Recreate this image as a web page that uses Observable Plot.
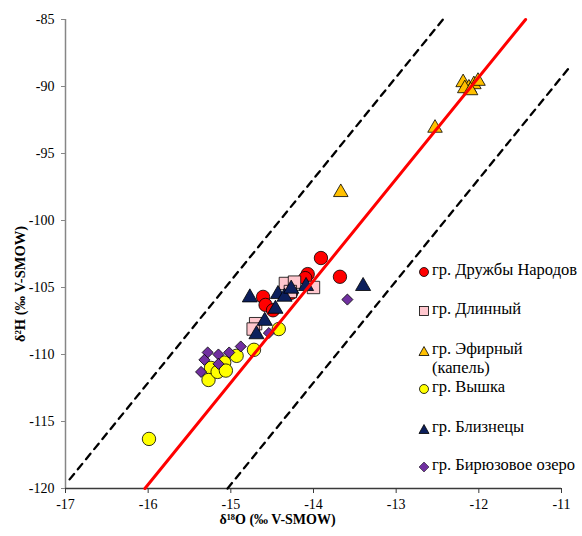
<!DOCTYPE html>
<html><head><meta charset="utf-8">
<script src="https://cdn.jsdelivr.net/npm/d3@7"></script>
<script src="https://cdn.jsdelivr.net/npm/@observablehq/plot@0.6"></script>
<style>
body{margin:0;background:#fff;}
#wrap{position:relative;width:582px;height:536px;overflow:hidden;font-family:"Liberation Serif","Times New Roman",serif;}
.li{position:absolute;font-size:16.5px;line-height:18px;white-space:nowrap;color:#000;}
.mk{position:absolute;}
</style></head><body><div id="wrap"></div>
<script>
// ---- data ----
const seriesNames = ["гр. Дружбы Народов", "гр. Длинный", "гр. Эфирный\n(капель)", "гр. Вышка", "гр. Близнецы", "гр. Бирюзовое озеро"];

const druzhbyX = [-13.91, -14.07, -14.10, -13.68, -14.61, -14.58, -14.49, -14.27];
const druzhbyY = [-102.8, -104.0, -104.3, -104.2, -105.7, -106.3, -106.7, -105.4];

const dlinnyX = [-14.34, -14.23, -14.00, -14.70, -14.73, -14.28];
const dlinnyY = [-104.7, -104.6, -105.0, -107.7, -108.1, -105.3];

const efirX = [-12.19, -12.12, -12.06, -12.01, -12.17, -12.10, -12.53, -13.67];
const efirY = [-89.7, -90.1, -89.85, -89.6, -90.15, -90.3, -93.1, -97.9];

const vyshkaX = [-15.99, -15.24, -15.27, -15.16, -15.08, -15.06, -14.93, -14.72, -14.42];
const vyshkaY = [-116.3, -111.0, -111.9, -111.3, -110.6, -111.2, -110.1, -109.65, -108.1];

const bliznetsyX = [-14.77, -14.43, -14.35, -14.27, -14.09, -14.46, -14.59, -14.69, -13.40];
const bliznetsyY = [-105.75, -105.5, -105.7, -105.1, -104.9, -106.6, -107.5, -108.5, -104.9];

const biryuzX = [-13.59, -14.54, -14.88, -15.02, -15.15, -15.28, -15.32, -15.15, -15.36];
const biryuzY = [-105.9, -108.4, -109.4, -109.85, -110.0, -109.85, -110.4, -110.7, -111.3];

// meteoric water line and ±1‰ δ18O envelope
const lineSlope = 7.6;
const lineIntercepts = [1.9, 9.5, -5.7];   // red, left dashed, right dashed
const lineXLimits = [[-17, -11], [-16.95, -11], [-17, -10.91]];

const xTicks = [-17, -16, -15, -14, -13, -12, -11];
const yTicks = [-120, -115, -110, -105, -100, -95, -90, -85];
const xDomain = [-17, -11];
const yDomain = [-120, -85];

// ---- build ----
const zip = (xs, ys) => xs.map((x, i) => ({x, y: ys[i]}));
function linePts(b, lim) {
  const x0 = Math.max((yDomain[0] - b) / lineSlope, lim[0]);
  const x1 = Math.min((yDomain[1] - b) / lineSlope, lim[1]);
  return [x0, x1].map(x => ({x, y: lineSlope * x + b}));
}

const styles = [
  {data: zip(druzhbyX, druzhbyY), symbol: "circle", r: 6.7, fill: "#ff0000"},
  {data: zip(dlinnyX, dlinnyY), symbol: "square", r: 7, fill: "#ffc7ce"},
  {data: zip(efirX, efirY), symbol: "triangle", r: 5.4, fill: "#ffc000"},
  {data: zip(vyshkaX, vyshkaY), symbol: "circle", r: 6.7, fill: "#ffff00"},
  {data: zip(bliznetsyX, bliznetsyY), symbol: "triangle", r: 5.6, fill: "#0c1f5c"},
  {data: zip(biryuzX, biryuzY), symbol: "diamond2", r: 5, fill: "#7030a0"}
];

const marks = [
  Plot.ruleX([xDomain[0]], {stroke: "#868686", strokeWidth: 1.5}),
  Plot.ruleY([yDomain[0]], {stroke: "#3a3a3a", strokeWidth: 1.5}),
  Plot.axisX({ticks: xTicks, tickSize: 5, tickPadding: 6, tickFormat: d => String(d), label: null, stroke: "#3a3a3a", fill: "#000", fontSize: 14}),
  Plot.axisY({ticks: yTicks, tickSize: 4, tickPadding: 7, tickFormat: d => String(d), label: null, stroke: "#868686", fill: "#000", fontSize: 14}),
  ...styles.map(s => Plot.dot(s.data, {x: "x", y: "y", symbol: () => s.symbol, r: s.r, fill: s.fill, stroke: "#000", strokeWidth: 0.8})),
  Plot.line(linePts(lineIntercepts[1], lineXLimits[1]), {x: "x", y: "y", stroke: "#000", strokeWidth: 2.3, strokeDasharray: "7,6"}),
  Plot.line(linePts(lineIntercepts[2], lineXLimits[2]), {x: "x", y: "y", stroke: "#000", strokeWidth: 2.3, strokeDasharray: "7,6"}),
  Plot.line(linePts(lineIntercepts[0], lineXLimits[0]), {x: "x", y: "y", stroke: "#ff0000", strokeWidth: 3}),
  Plot.text(["δ¹⁸O (‰ V-SMOW)"], {text: d => d, frameAnchor: "bottom", textAnchor: "middle", dx: -36, dy: 35, fontWeight: "bold", fontSize: 14, fill: "#000"}),
  Plot.text(["δ²H (‰ V-SMOW)"], {text: d => d, frameAnchor: "left", textAnchor: "middle", rotate: -90, dx: -45, dy: 30, fontWeight: "bold", fontSize: 14.5, fill: "#000"})
];

const chart = Plot.plot({
  width: 582, height: 536,
  marginLeft: 65, marginRight: 21, marginTop: 19, marginBottom: 48,
  style: {fontFamily: "Liberation Serif, Times New Roman, serif", fontSize: "14px", color: "#000", background: "#fff", overflow: "visible"},
  x: {domain: xDomain},
  y: {domain: yDomain},
  marks
});
const wrap = document.getElementById("wrap");
wrap.appendChild(chart);

// ---- legend (HTML overlay) ----
const legendRows = [270, 309, 349, 387, 427, 465];
const legendSymbols = [
  f => `<circle cx="6" cy="6" r="4.5" fill="${f}" stroke="#000" stroke-width="0.8"/>`,
  f => `<rect x="1.5" y="1.5" width="9" height="9" fill="${f}" stroke="#000" stroke-width="0.8"/>`,
  f => `<path d="M6,1.5 L11,10.5 L1,10.5 Z" fill="${f}" stroke="#000" stroke-width="0.8"/>`,
  f => `<circle cx="6" cy="6" r="4.5" fill="${f}" stroke="#000" stroke-width="0.8"/>`,
  f => `<path d="M6,1.5 L11,10.5 L1,10.5 Z" fill="${f}" stroke="#000" stroke-width="0.8"/>`,
  f => `<path d="M6,1 L11,6 L6,11 L1,6 Z" fill="${f}" stroke="#000" stroke-width="0.5"/>`
];
seriesNames.forEach((name, i) => {
  const cy = legendRows[i];
  const mk = document.createElement("div");
  mk.className = "mk";
  mk.style.left = (424 - 6) + "px";
  mk.style.top = (cy - 6) + "px";
  mk.innerHTML = `<svg width="12" height="12">${legendSymbols[i](styles[i].fill)}</svg>`;
  wrap.appendChild(mk);
  const lines = name.split("\n");
  lines.forEach((t, j) => {
    const d = document.createElement("div");
    d.className = "li";
    d.style.left = "432px";
    d.style.top = (cy - 9 + j * 19) + "px";
    d.textContent = t;
    wrap.appendChild(d);
  });
});
</script>
</body></html>
